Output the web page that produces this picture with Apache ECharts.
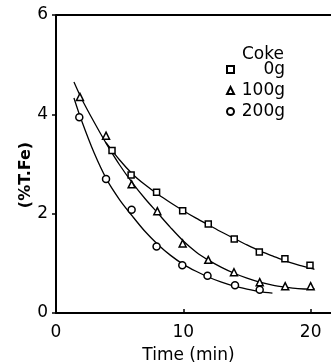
<!DOCTYPE html>
<html>
<head>
<meta charset="utf-8">
<script src="https://cdn.jsdelivr.net/npm/echarts@6/dist/echarts.min.js"></script>
<style>html,body{margin:0;padding:0;background:#fff}#c{width:331px;height:362px}</style>
</head>
<body>
<div id="c"></div>
<script>
// Measured points (Time in min, %T.Fe)
var coke0 = [[4.4,3.27],[5.9,2.78],[7.9,2.43],[9.95,2.06],[11.96,1.79],[14.0,1.49],[15.97,1.23],[17.98,1.09],[19.95,0.96]];
var coke100 = [[1.88,4.35],[3.93,3.57],[5.94,2.59],[7.96,2.05],[9.95,1.40],[11.96,1.07],[13.98,0.82],[16.0,0.62],[18.0,0.54],[20.0,0.54]];
var coke200 = [[1.83,3.94],[3.93,2.70],[5.94,2.08],[7.9,1.34],[9.92,0.96],[11.9,0.75],[14.06,0.56],[16.0,0.47]];
// Fitted curves
var fit0 = [[3.93,3.43],[5,3.08],[6,2.80],[7,2.58],[8,2.39],[9,2.22],[10,2.06],[11,1.91],[12,1.77],[13,1.63],[14,1.50],[15,1.37],[16,1.25],[17,1.15],[18,1.05],[19,0.97],[20,0.90],[20.3,0.88]];
var fit100 = [[1.41,4.65],[2,4.32],[3,3.84],[4,3.39],[5,2.98],[6,2.62],[7,2.30],[8,2.01],[9,1.72],[10,1.45],[11,1.23],[12,1.06],[13,0.92],[14,0.80],[15,0.70],[16,0.62],[17,0.56],[18,0.52],[19,0.49],[20,0.48],[20.3,0.49]];
var fit200 = [[1.41,4.33],[2,3.88],[3,3.22],[4,2.68],[5,2.28],[6,1.95],[7,1.64],[8,1.38],[9,1.16],[10,0.98],[11,0.84],[12,0.72],[13,0.62],[14,0.54],[15,0.48],[16,0.43],[17,0.40]];
var xTicks = [0, 10, 20];
var yTicks = [0, 2, 4, 6];
var yTop = 6;
var legendNames = ['0g','100g','200g'];
var legendTitle = 'Coke';
var xTitle = 'Time (min)';
var yTitle = '(%T.Fe)';

var F = 'DejaVu Sans';
var chart = echarts.init(document.getElementById('c'), null, {renderer:'canvas'});
function marker(name, sym, data, size){
  return {name:name, type:'scatter', data:data, symbol:sym, symbolSize:size, z:5,
    itemStyle:{color:'#fff', borderColor:'#000', borderWidth:1.5, opacity:1}};
}
function curve(data){
  return {type:'line', data:data, smooth:0.3, symbol:'none', silent:true,
    lineStyle:{color:'#000', width:1.3}};
}
var topFrame = curve(fit0);
topFrame.markLine = {silent:true, symbol:['none','none'], label:{show:false},
  lineStyle:{color:'#000', width:2, type:'solid'}, data:[{yAxis:yTop}]};
chart.setOption({
  animation:false,
  backgroundColor:'#fff',
  title:{text:legendTitle, left:242, top:46, padding:0, textStyle:{fontFamily:F, fontSize:17, fontWeight:'normal', color:'#000'}},
  legend:{orient:'vertical', left:221, top:56, itemWidth:7, itemHeight:7, itemGap:4,
    data:legendNames,
    formatter:function(n){return '{a|'+n+'}';},
    textStyle:{fontFamily:F, fontSize:17, color:'#000', rich:{a:{width:46, align:'right', fontFamily:F, fontSize:17, color:'#000'}}}},
  grid:{left:56, top:15, right:0, bottom:49, containLabel:false, outerBoundsMode:'none'},
  xAxis:{type:'value', min:0, max:21.6,
    axisLine:{show:true, onZero:false, lineStyle:{color:'#000', width:2}},
    axisTick:{show:true, inside:true, length:4, customValues:xTicks, lineStyle:{color:'#000', width:1.5}},
    axisLabel:{margin:11, fontFamily:F, fontSize:17, color:'#000', customValues:xTicks},
    splitLine:{show:false},
    name:xTitle, nameLocation:'middle', nameGap:34, nameMoveOverlap:false,
    nameTextStyle:{fontFamily:F, fontSize:17, color:'#000', padding:[0,10,0,0]}},
  yAxis:{type:'value', min:0, max:6, interval:2,
    axisLine:{show:true, onZero:false, lineStyle:{color:'#000', width:2}},
    axisTick:{show:true, inside:false, length:4, customValues:yTicks, lineStyle:{color:'#000', width:1.5}},
    axisLabel:{margin:8, fontFamily:F, fontSize:17, color:'#000', customValues:yTicks},
    splitLine:{show:false},
    name:yTitle, nameLocation:'middle', nameGap:22, nameMoveOverlap:false,
    nameTextStyle:{fontFamily:F, fontSize:16, fontWeight:'bold', color:'#000', padding:[0,22,0,0]}},
  series:[
    topFrame, curve(fit100), curve(fit200),
    marker('0g','rect',coke0,6),
    marker('100g','triangle',coke100,7),
    marker('200g','circle',coke200,7)
  ]
});
</script>
</body>
</html>
